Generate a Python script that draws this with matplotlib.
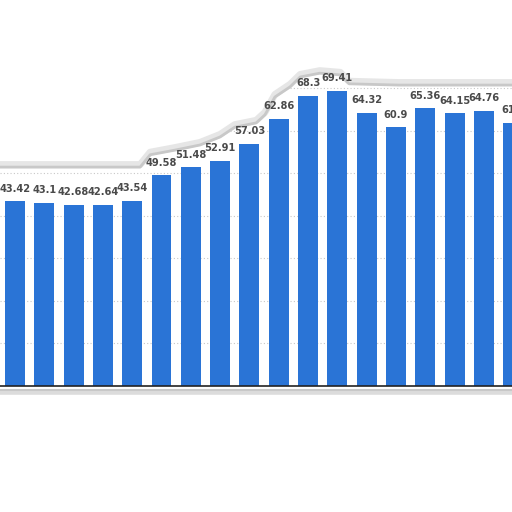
import numpy as np
import matplotlib
matplotlib.use("Agg")
import matplotlib.pyplot as plt

# bar values (last one is cut at the right edge)
values = [43.42, 43.1, 42.68, 42.64, 43.54, 49.58, 51.48, 52.91, 57.03,
          62.86, 68.3, 69.41, 64.32, 60.9, 65.36, 64.15, 64.76, 61.9]
labels = [f"{v:g}" for v in values]
grid_levels = [10, 20, 30, 40, 50, 60, 70]

# torn paper edge above the bars (bar index, value units)
tear_x = [-0.6, 4.27, 4.61, 5.46, 6.31, 7.0, 7.5, 8.23, 8.53, 8.87, 9.39,
          9.73, 10.4, 11.1, 11.4, 13.1, 17.2]
tear_y = [51.5, 51.5, 54.4, 55.5, 56.7, 58.6, 60.9, 61.9, 63.8, 68.0, 70.4,
          72.7, 73.6, 73.2, 71.1, 70.8, 70.8]

bar_color = "#2a74d6"

fig = plt.figure(figsize=(5.12, 5.12), dpi=100)
ax = fig.add_axes([0, 0, 1, 1])
ax.set_xlim(-0.512, 16.96)
ax.set_ylim(-29.65, 90.82)

x = np.arange(len(values))
ax.bar(x, values, width=0.68, color=bar_color, zorder=2)

for xi, v, lab in zip(x, values, labels):
    ax.annotate(lab, (xi, v), xytext=(0, 5.5), textcoords="offset points",
                ha="center", va="bottom", fontsize=7.1, fontweight="bold",
                family="DejaVu Sans", color="#4a4a4a", zorder=5,
                annotation_clip=False)

# dotted grid
for g in grid_levels:
    ax.axhline(g, color="#c8c8c8", lw=0.8, ls=(0, (1, 2)), zorder=0.5)

# paper torn off above the edge
ax.fill_between(tear_x, tear_y, 200, color="white", zorder=1.5)
ax.plot(tear_x, [t + 0.6 for t in tear_y], color="#e6e6e6", lw=5,
        solid_capstyle="round", zorder=1.6)
ax.plot(tear_x, tear_y, color="#c8c8c8", lw=2, zorder=1.7)

# baseline and shadow of the bottom edge
ax.axhline(0, color="#222222", lw=1.2, zorder=3)
ax.axhline(-1.3, color="#dcdcdc", lw=4, zorder=1)
ax.axhline(-0.9, color="#c8c8c8", lw=1.5, zorder=1)

ax.axis("off")
fig.savefig("out.png", dpi=100, facecolor="white")
